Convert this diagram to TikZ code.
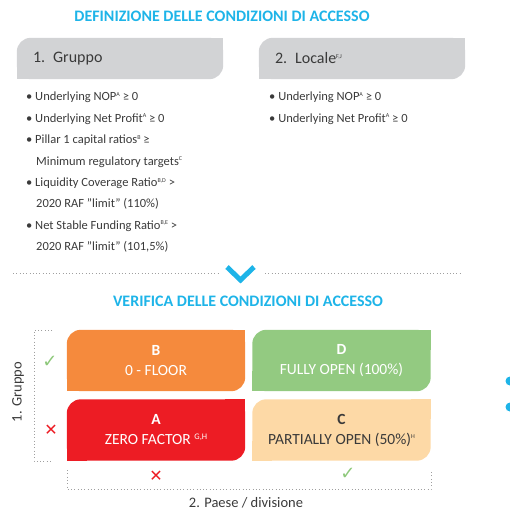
\documentclass[tikz,border=0pt]{standalone}
\usepackage{fontspec}
\setmainfont{Carlito}
\newfontfamily\symfont{DejaVu Sans}
\usetikzlibrary{positioning,backgrounds}
\setlength{\parindent}{0pt}

\definecolor{headblue}{HTML}{1EB4E8}
\definecolor{tabgray}{HTML}{D2D3D5}
\definecolor{txtgray}{HTML}{3A3A3A}
\definecolor{floororange}{HTML}{F58A3D}
\definecolor{opengreen}{HTML}{93CA81}
\definecolor{zerored}{HTML}{ED1C24}
\definecolor{halfpeach}{HTML}{FDD9A6}
\definecolor{okgreen}{HTML}{8DC87A}

% small footnote letters
\newcommand{\fn}[1]{\raisebox{0.75ex}{\fontsize{6}{6}\selectfont #1}}
\newcommand{\bigfn}[1]{\raisebox{0.7ex}{\fontsize{8.5}{8.5}\selectfont #1}}

\tikzset{
  heading/.style={font=\bfseries\fontsize{16}{18}\selectfont,text=headblue},
  tab/.style={minimum width=206pt,minimum height=41pt,inner xsep=16pt,
    text width=174pt,align=left,font=\fontsize{16}{18}\selectfont,text=txtgray},
  items/.style={anchor=north west,inner sep=0pt,align=left,
    font=\fontsize{12.5}{21.4}\selectfont,text=txtgray},
  cell/.style={minimum width=178pt,minimum height=61pt,inner sep=0pt,
    align=center,font=\fontsize{15.5}{20}\selectfont},
  guide/.style={draw=gray!75,line width=0.7pt,dash pattern=on 0.7pt off 2.6pt},
  okmark/.style={text=okgreen,font=\symfont\fontsize{18}{18}\selectfont},
  nomark/.style={text=zerored,font=\symfont\fontsize{16}{16}\selectfont},
  axis label/.style={font=\fontsize{14.5}{16}\selectfont,text=txtgray}
}

% fill behind a node: rounded top left and bottom right, square elsewhere
\newcommand{\leaf}[2]{%
  \begin{pgfonlayer}{background}
    \fill[#2,rounded corners=14pt] (#1.south west) rectangle (#1.north east);
    \fill[#2] (#1.south west) rectangle ([xshift=20pt,yshift=20pt]#1.south west);
    \fill[#2] (#1.north east) rectangle ([xshift=-20pt,yshift=-20pt]#1.north east);
  \end{pgfonlayer}}

\begin{document}
\begin{tikzpicture}[x=1pt,y=-1pt]
  \useasboundingbox (0,0) rectangle (509,514);

  % access conditions
  \node[heading] (defhead) at (222,16) {DEFINIZIONE DELLE CONDIZIONI DI ACCESSO};
  \node[tab] (grp) at (120,58.5) {1. Gruppo};
  \node[tab] (loc) at (362,58.5) {2. Locale\fn{F,J}};
  \leaf{grp}{tabgray}
  \leaf{loc}{tabgray}

  \node[items] (grpitems) at (26,92) {%
    • Underlying NOP\fn{A} ≥ 0\\
    • Underlying Net Profit\fn{A} ≥ 0\\
    • Pillar 1 capital ratios\fn{B} ≥\\
    \hspace*{10pt}Minimum regulatory targets\fn{C}\\
    • Liquidity Coverage Ratio\fn{B,D} >\\
    \hspace*{10pt}2020 RAF "limit" (110\%)\\
    • Net Stable Funding Ratio\fn{B,E} >\\
    \hspace*{10pt}2020 RAF "limit" (101,5\%)};
  \node[items] (locitems) at (269,92) {%
    • Underlying NOP\fn{A} ≥ 0\\
    • Underlying Net Profit\fn{A} ≥ 0};

  % separator
  \draw[guide] (13,273) -- (220,273);
  \draw[guide] (265,273) -- (460,273);
  \draw[headblue,line width=5pt] (227,267) -- (240.5,280) -- (254,267);

  % access check
  \node[heading] (verhead) at (248,301) {VERIFICA DELLE CONDIZIONI DI ACCESSO};

  \node[cell,text=white] (B) at (156,360.5) {\textbf{B}\\0 - FLOOR};
  \node[cell,text=white] (D) at (341.5,360.5) {\textbf{D}\\FULLY OPEN (100\%)};
  \node[cell,text=white] (A) at (156,430) {\textbf{A}\\ZERO FACTOR \bigfn{G,H}};
  \node[cell,text=txtgray] (C) at (341.5,430) {\textbf{C}\\PARTIALLY OPEN (50\%)\fn{H}};
  \leaf{B}{floororange}
  \leaf{D}{opengreen}
  \leaf{A}{zerored}
  \leaf{C}{halfpeach}

  % group axis
  \draw[guide] (52,330) -- (34,330) -- (34,461) -- (52,461);
  \node[okmark] (grpok) at (50,362) {✓};
  \node[nomark] (grpno) at (51,430) {✕};
  \node[axis label,rotate=90] (grplabel) at (18,392) {1. Gruppo};

  % country axis
  \draw[guide] (67,470) -- (67,489) -- (431,489) -- (431,470);
  \node[nomark] (locno) at (156,476) {✕};
  \node[okmark] (locok) at (348,474) {✓};
  \node[axis label] (loclabel) at (246,503) {2. Paese / divisione};

  \fill[headblue] (510,381) circle (4.5);
  \fill[headblue] (510,407) circle (4.5);
\end{tikzpicture}
\end{document}
